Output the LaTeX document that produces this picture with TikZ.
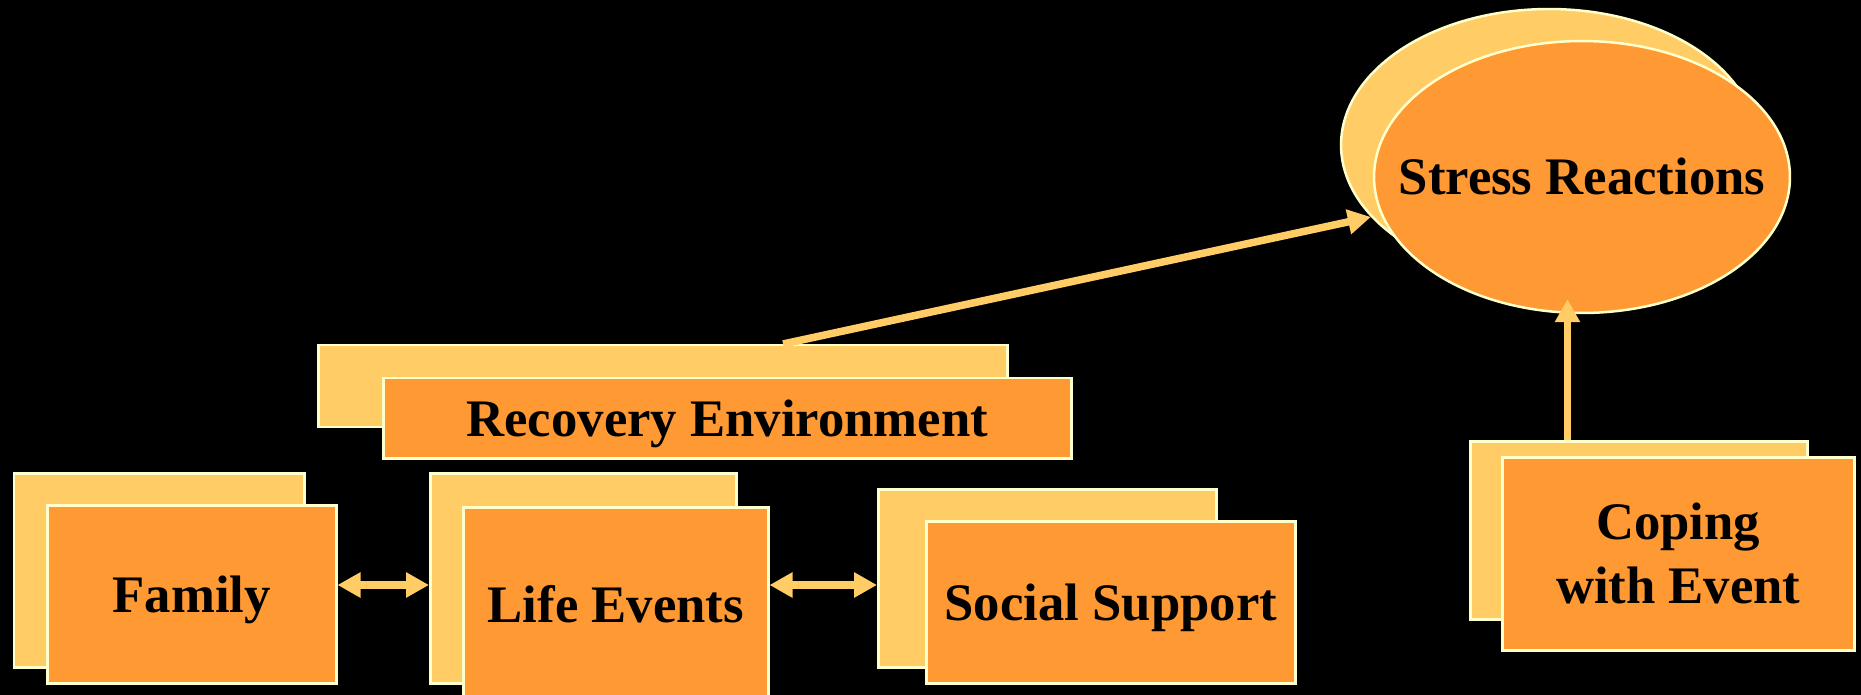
\documentclass[tikz,border=0pt]{standalone}
\usepackage{fontspec}
\setmainfont{Liberation Serif}
\usetikzlibrary{positioning, calc, arrows.meta, shapes.geometric}
\definecolor{paleorange}{HTML}{FFCC66}
\definecolor{deeporange}{HTML}{FF9933}
\definecolor{cream}{HTML}{FFFFCC}
\tikzset{
  boxsize/.style 2 args={minimum width=#1*0.02cm, minimum height=#2*0.02cm},
  capcentre/.style={text height=0.72cm, text depth=0pt},
  backbox/.style={draw=cream, line width=0.05cm, fill=paleorange, inner sep=0, anchor=north west},
  frontbox/.style={backbox, fill=deeporange},
  backoval/.style={ellipse, draw=cream, line width=0.05cm, fill=paleorange, inner sep=0, minimum width=8.32cm, minimum height=5.44cm},
  frontoval/.style={backoval, fill=deeporange},
  link/.style={paleorange, line width=0.15cm, -{Triangle[width=0.48cm, length=0.46cm]}},
  twoway/.style={paleorange, line width=0.15cm, {Triangle[width=0.48cm, length=0.46cm]}-{Triangle[width=0.48cm, length=0.46cm]}}
}
\begin{document}
\begin{tikzpicture}[x=0.02cm, y=-0.02cm, every node/.style={align=center, font=\bfseries\fontsize{30}{36.4}\selectfont}]
\useasboundingbox (0,0) rectangle (1861,695);
\fill[black] (0,0) rectangle (1861,695);
\node[backoval] (stressback) at (1549,145) {};
\node[frontoval, label={[capcentre]center:Stress Reactions}] (stress) at (1582,177) {};
\node[backbox, boxsize={689}{82}] (recback) at (317,344) {};
\node[frontbox, capcentre, boxsize={688}{80}] (recfront) at (382,377) {Recovery Environment};
\node[backbox, boxsize={290}{194}] (famback) at (13,472) {};
\node[frontbox, capcentre, boxsize={289}{178}] (famfront) at (46,504) {Family};
\node[backbox, boxsize={306}{210}] (lifeback) at (429,472) {};
\node[frontbox, capcentre, boxsize={305}{194}] (lifefront) at (462,506) {Life Events};
\node[backbox, boxsize={338}{178}] (socback) at (877,488) {};
\node[frontbox, capcentre, boxsize={369}{162}] (socfront) at (925,520) {Social Support};
\node[backbox, boxsize={337}{178}] (copeback) at (1469,440) {};
\node[frontbox, boxsize={352}{193}] (copefront) at (1501,456) {Coping\\with Event};
\coordinate (row) at (0,585);
\coordinate (recout) at ($(recback.north west)!0.674!(recback.north east)$);
\coordinate (copeout) at ($(copeback.north west)!0.29!(copeback.north east)$);
\draw[link] (recout) -- (stressback.202);
\draw[link] (copeout) -- ($(copeout |- stress.south)+(0,-15)$);
\draw[twoway] (famfront.east |- row) -- (lifeback.west |- row);
\draw[twoway] (lifefront.east |- row) -- (socback.west |- row);
\end{tikzpicture}
\end{document}
